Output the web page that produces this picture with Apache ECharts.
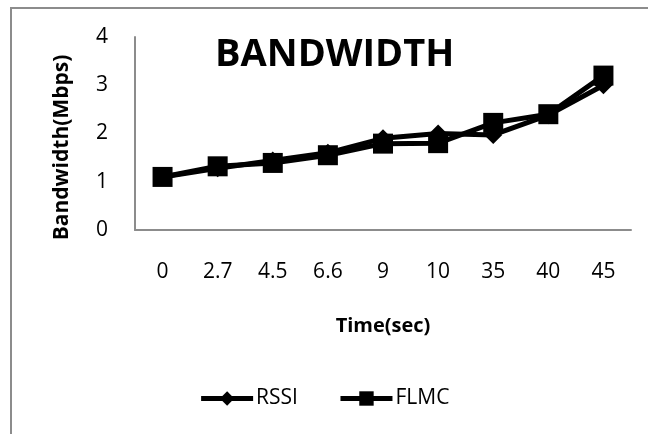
<!DOCTYPE html>
<html>
<head>
<meta charset="utf-8">
<script src="https://cdn.jsdelivr.net/npm/echarts@6/dist/echarts.min.js"></script>
<style>
  html, body { margin: 0; padding: 0; background: #fff; }
  #chart { width: 648px; height: 434px; }
</style>
</head>
<body>
<div id="chart"></div>
<script>
// 横轴时间点
var times = ['0', '2.7', '4.5', '6.6', '9', '10', '35', '40', '45'];
// 两条曲线数据
var rssi = [1.1, 1.28, 1.44, 1.6, 1.9, 2.0, 1.97, 2.38, 3.0];
var flmc = [1.1, 1.32, 1.39, 1.55, 1.79, 1.8, 2.22, 2.4, 3.2];
var yTicks = [0, 4, 1];

var font = '"Open Sans", "Noto Sans", sans-serif';
var chart = echarts.init(document.getElementById('chart'));

var option = {
  animation: false,
  backgroundColor: '#fff',
  textStyle: { fontFamily: font },
  graphic: [
    {
      type: 'rect',
      shape: { x: 11, y: 8, width: 700, height: 500 },
      style: { fill: 'none', stroke: '#8c8c8c', lineWidth: 2 },
      silent: true
    }
  ],
  title: {
    text: 'BANDWIDTH',
    left: 210,
    top: 31,
    textStyle: { fontFamily: font, fontSize: 38, fontWeight: 'bold', color: '#000' }
  },
  legend: {
    bottom: 20,
    left: 'center',
    itemWidth: 52,
    itemHeight: 18,
    itemGap: 40,
    lineStyle: { width: 5, color: '#000' },
    textStyle: { fontFamily: font, fontSize: 21, color: '#000', padding: [0, 0, 0, -2] },
    data: ['RSSI', 'FLMC']
  },
  grid: {
    left: 135,
    right: 17,
    top: 37,
    bottom: 204
  },
  xAxis: {
    type: 'category',
    data: times,
    boundaryGap: true,
    name: 'Time(sec)',
    nameLocation: 'middle',
    nameGap: 86,
    nameTextStyle: { fontFamily: font, fontSize: 20, fontWeight: 'bold', color: '#000' },
    axisLine: { lineStyle: { color: '#8c8c8c', width: 2 } },
    axisTick: { show: false },
    axisLabel: { margin: 32, fontSize: 21, color: '#000', fontFamily: font }
  },
  yAxis: {
    type: 'value',
    min: yTicks[0],
    max: yTicks[1],
    interval: yTicks[2],
    name: 'Bandwidth(Mbps)',
    nameLocation: 'middle',
    nameGap: 62,
    nameTextStyle: { fontFamily: font, fontSize: 21, fontWeight: 'bold', color: '#000', padding: [0, 0, 0, -28] },
    axisLine: { show: true, lineStyle: { color: '#8c8c8c', width: 2 } },
    axisTick: { show: false },
    splitLine: { show: false },
    axisLabel: { margin: 27, fontSize: 21, color: '#000', fontFamily: font }
  },
  series: [
    {
      name: 'RSSI',
      type: 'line',
      data: rssi,
      symbol: 'diamond',
      symbolSize: 18,
      lineStyle: { color: '#000', width: 5 },
      itemStyle: { color: '#000' }
    },
    {
      name: 'FLMC',
      type: 'line',
      data: flmc,
      symbol: 'rect',
      symbolSize: 20,
      lineStyle: { color: '#000', width: 5 },
      itemStyle: { color: '#000' }
    }
  ]
};

chart.setOption(option);
</script>
</body>
</html>
